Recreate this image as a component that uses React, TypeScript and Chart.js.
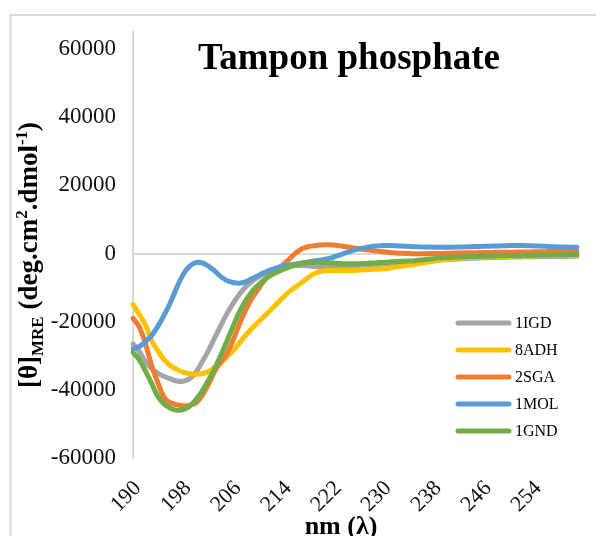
import React, { useEffect, useRef } from "react";
import { Chart, registerables } from "chart.js";

Chart.register(...registerables);

const wavelengths = [
  190, 191, 192, 193, 194, 195, 196, 197, 198, 199,
  200, 201, 202, 203, 204, 205, 206, 207, 208, 209,
  210, 211, 212, 213, 214, 215, 216, 217, 218, 219,
  220, 221, 222, 223, 224, 225, 226, 227, 228, 229,
  230, 231, 232, 233, 234, 235, 236, 237, 238, 239,
  240, 241, 242, 243, 244, 245, 246, 247, 248, 249,
  250, 251, 252, 253, 254, 255, 256, 257, 258, 259,
  260, 261,
];

const xTickLabels = [190, 198, 206, 214, 222, 230, 238, 246, 254];
const yTickValues = [-60000, -40000, -20000, 0, 20000, 40000, 60000];

const s1IGD = [
  -26500, -28700, -31800, -33800, -35200, -36100, -36800, -37400, -37500, -36800,
  -35000, -32000, -28700, -25000, -21300, -17700, -14600, -12000, -9800, -8200,
  -6900, -5900, -5100, -4500, -4000, -3700, -3500, -3500, -3600, -3800,
  -4000, -4000, -3900, -3800, -3700, -3600, -3500, -3400, -3300, -3200,
  -3100, -2900, -2800, -2600, -2500, -2300, -2200, -2100, -2000, -1900,
  -1800, -1700, -1600, -1500, -1400, -1300, -1250, -1200, -1150, -1100,
  -1050, -1000, -1000, -950, -950, -900, -900, -900, -850, -850,
  -800, -800,
];

const s8ADH = [
  -15000, -17800, -21000, -25600, -28600, -31200, -32900, -34000, -34800, -35300,
  -35400, -35300, -34700, -33500, -32200, -30400, -28500, -26300, -24000, -22000,
  -20200, -18400, -16600, -14700, -12900, -11200, -9800, -8500, -7100, -5900,
  -5300, -5000, -5000, -5000, -5000, -5000, -4900, -4800, -4700, -4600,
  -4500, -4300, -4000, -3700, -3400, -3200, -2900, -2600, -2300, -2000,
  -1700, -1500, -1400, -1300, -1200, -1100, -1000, -950, -900, -850,
  -800, -750, -700, -700, -650, -600, -600, -550, -550, -500,
  -500, -500,
];

const s2SGA = [
  -19000, -21500, -26500, -33000, -38000, -42300, -43800, -44400, -44700, -44500,
  -43900, -41800, -38600, -34800, -31800, -29400, -25400, -20800, -16600, -13200,
  -10500, -7900, -6000, -4600, -3300, -1600, 100, 1400, 2000, 2300,
  2500, 2600, 2500, 2300, 2000, 1700, 1450, 1200, 950, 700,
  500, 300, 150, 50, 0, -100, -100, -50, 0, 0,
  50, 100, 150, 200, 200, 250, 300, 300, 350, 350,
  400, 400, 450, 450, 500, 500, 550, 600, 600, 650,
  700, 700,
];

const s1MOL = [
  -28000, -27300, -25800, -24000, -21300, -18000, -14300, -10000, -6200, -3800,
  -2700, -2700, -3600, -5000, -6700, -7900, -8500, -8700, -8300, -7400,
  -6500, -5600, -4800, -4200, -3700, -3300, -3100, -2800, -2500, -2200,
  -1900, -1600, -1100, -500, 200, 800, 1300, 1700, 2000, 2200,
  2350, 2350, 2300, 2200, 2100, 2000, 1950, 1900, 1850, 1850,
  1850, 1850, 1900, 1950, 2000, 2050, 2100, 2150, 2200, 2250,
  2300, 2350, 2350, 2300, 2250, 2200, 2100, 2000, 1950, 1900,
  1850, 1850,
];

const s1GND = [
  -29000, -31200, -34500, -38200, -42000, -44200, -45400, -46000, -45800, -44900,
  -43000, -40500, -37400, -34000, -30000, -25800, -21400, -17200, -13900, -11200,
  -9300, -7700, -6500, -5500, -4700, -3900, -3300, -2900, -2700, -2600,
  -2600, -2700, -2800, -2900, -3000, -3000, -3000, -2900, -2800, -2700,
  -2600, -2500, -2400, -2300, -2200, -2100, -1900, -1700, -1500, -1300,
  -1200, -1100, -1000, -950, -900, -850, -800, -750, -700, -650,
  -600, -600, -550, -500, -500, -450, -400, -400, -350, -350,
  -300, -300,
];

const seriesNames = ["1IGD", "8ADH", "2SGA", "1MOL", "1GND"];
const seriesValues = [s1IGD, s8ADH, s2SGA, s1MOL, s1GND];
const seriesColors = ["#A5A5A5", "#FFC000", "#ED7D31", "#5B9BD5", "#70AD47"];

const SERIF = '"Liberation Serif", "Times New Roman", serif';

const overlayPlugin = {
  id: "overlay",
  beforeDraw(chart: any) {
    const ctx = chart.ctx;
    ctx.save();
    ctx.strokeStyle = "#d9d9d9";
    ctx.lineWidth = 2;
    ctx.beginPath();
    ctx.moveTo(2.5, chart.height);
    ctx.lineTo(2.5, 7);
    ctx.lineTo(chart.width, 7);
    ctx.stroke();
    ctx.restore();
  },
  afterDraw(chart: any) {
    const ctx = chart.ctx;
    const area = chart.chartArea;
    const xScale = chart.scales.x;

    // X tick labels (rotated 45°), positioned from the category scale
    ctx.save();
    ctx.fillStyle = "#111";
    ctx.font = `22px ${SERIF}`;
    ctx.textAlign = "right";
    ctx.textBaseline = "middle";
    xTickLabels.forEach((lab) => {
      const idx = wavelengths.indexOf(lab);
      const px = xScale.getPixelForValue(idx);
      ctx.save();
      ctx.translate(px + 5, area.bottom + 27);
      ctx.rotate(-Math.PI / 4);
      ctx.fillText(String(lab), 0, 0);
      ctx.restore();
    });
    ctx.restore();

    ctx.save();
    ctx.fillStyle = "#000";
    // Title
    ctx.font = `bold 37px ${SERIF}`;
    ctx.textAlign = "center";
    ctx.textBaseline = "alphabetic";
    ctx.fillText("Tampon phosphate", 341, 61);

    // X axis title
    ctx.font = `bold 26px ${SERIF}`;
    ctx.fillText("nm (λ)", 333, 526);

    // Y axis title with subscript / superscripts
    const parts = [
      { t: "[θ]", size: 27, dy: 0 },
      { t: "MRE", size: 17, dy: 6 },
      { t: " (deg.cm", size: 27, dy: 0 },
      { t: "2", size: 17, dy: -10 },
      { t: ".dmol", size: 27, dy: 0 },
      { t: "-1", size: 17, dy: -10 },
      { t: ")", size: 27, dy: 0 },
    ];
    let total = 0;
    const widths: number[] = [];
    for (const p of parts) {
      ctx.font = `bold ${p.size}px ${SERIF}`;
      const w = ctx.measureText(p.t).width;
      widths.push(w);
      total += w;
    }
    ctx.translate(29, 247);
    ctx.rotate(-Math.PI / 2);
    ctx.textAlign = "left";
    let x = -total / 2;
    parts.forEach((p, i) => {
      ctx.font = `bold ${p.size}px ${SERIF}`;
      ctx.fillText(p.t, x, p.dy);
      x += widths[i];
    });
    ctx.restore();

    // Legend
    ctx.save();
    ctx.font = `16px ${SERIF}`;
    ctx.textAlign = "left";
    ctx.textBaseline = "middle";
    ctx.lineCap = "round";
    ctx.lineWidth = 5;
    chart.data.datasets.forEach((ds: any, i: number) => {
      const y = 315 + i * 27;
      ctx.strokeStyle = ds.borderColor;
      ctx.beginPath();
      ctx.moveTo(450, y);
      ctx.lineTo(501, y);
      ctx.stroke();
      ctx.fillStyle = "#000";
      ctx.fillText(ds.label, 507, y + 1);
    });
    ctx.restore();
  },
};

export default function App() {
  const canvasRef = useRef<HTMLCanvasElement | null>(null);

  useEffect(() => {
    if (!canvasRef.current) return;
    const chart = new Chart(canvasRef.current, {
      type: "line",
      data: {
        labels: wavelengths.map(String),
        datasets: seriesNames.map((name, i) => ({
          label: name,
          data: seriesValues[i],
          borderColor: seriesColors[i],
          backgroundColor: seriesColors[i],
          borderWidth: 5,
          pointRadius: 0,
          tension: 0.4,
          fill: false,
          borderCapStyle: "round" as const,
          borderJoinStyle: "round" as const,
          order: seriesNames.length - 1 - i,
        })),
      },
      options: {
        responsive: false,
        animation: false,
        events: [],
        layout: { padding: { left: 0, top: 24, right: 27, bottom: 0 } },
        plugins: {
          legend: { display: false },
          title: { display: false },
          tooltip: { enabled: false },
        },
        scales: {
          x: {
            type: "category",
            offset: false,
            grid: { display: false, drawTicks: false },
            border: { display: false },
            ticks: { display: false },
            afterFit: (scale: any) => {
              scale.height = 78;
            },
          },
          y: {
            type: "linear",
            min: -60000,
            max: 65000,
            grid: {
              drawTicks: false,
              lineWidth: 2,
              color: (c: any) => (c.tick && c.tick.value === 0 ? "#d9d9d9" : "rgba(0,0,0,0)"),
            },
            border: { display: true, color: "#d9d9d9", width: 2 },
            ticks: {
              padding: 17,
              color: "#111",
              font: { family: SERIF, size: 23 },
              callback: (v: any) => String(v),
            },
            afterBuildTicks: (scale: any) => {
              scale.ticks = yTickValues.map((v) => ({ value: v }));
            },
            afterFit: (scale: any) => {
              scale.width = 125;
              scale.paddingTop = 0;
              scale.paddingBottom = 0;
            },
          },
        },
      },
      plugins: [overlayPlugin],
    });
    return () => chart.destroy();
  }, []);

  return (
    <div style={{ width: 596, height: 528, overflow: "hidden" }}>
      <canvas ref={canvasRef} width={596} height={528} style={{ display: "block" }} />
    </div>
  );
}
